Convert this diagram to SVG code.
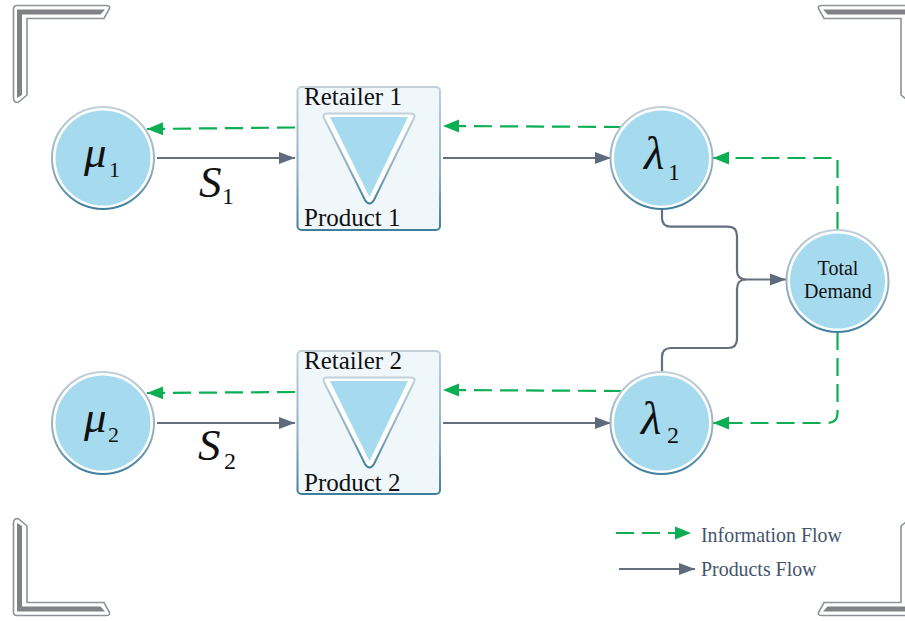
<svg xmlns="http://www.w3.org/2000/svg" width="905" height="621" viewBox="0 0 905 621">
<style>
text{font-family:"Liberation Serif","Times New Roman",serif;fill:#111}
.lbl{font-size:25px}
.td{font-size:20px;text-anchor:middle}
.leg{font-size:19.9px;fill:#44546a}
.it{font-style:italic}
.sub{font-size:24px}
.info{fill:none;stroke:#0fae55;stroke-width:2.2;stroke-dasharray:18 8;marker-end:url(#ga)}
.prod{fill:none;stroke:#65707f;stroke-width:2.2}
.pa{marker-end:url(#pa)}
.ring{fill:#fff;stroke:url(#rim);stroke-width:2}
.core{fill:#a6dbef}
.co{fill:#fff;stroke:#8d9297;stroke-width:1.6}
.ci{fill:#808285}
</style>
<defs>
<linearGradient id="rim" x1="0" y1="0" x2="0" y2="1"><stop offset="0" stop-color="#c2d0da"/><stop offset="0.6" stop-color="#92aebf"/><stop offset="1" stop-color="#3f7f9c"/></linearGradient>
<marker id="ga" markerUnits="userSpaceOnUse" markerWidth="17" markerHeight="14" refX="16" refY="7" orient="auto"><path d="M0,0.5 L16,7 L0,13.5 Z" fill="#0bae52"/></marker>
<marker id="pa" markerUnits="userSpaceOnUse" markerWidth="17" markerHeight="14" refX="16" refY="7" orient="auto"><path d="M0,1 L16,7 L0,13 Z" fill="#5f6b7d"/></marker>
<g id="corner"><path class="co" d="M17,5.500 H106 Q110.500,5.500 109.500,8.500 L104,18.500 H27 V95 L18,102.500 Q13.500,102.500 13.500,98 V9 Q13.500,5.500 17,5.500 Z"/><path class="ci" d="M17,9.500 H105 L100.500,14.500 H22 V95 L17,98 Z"/></g>
</defs>
<rect width="905" height="621" fill="#fff"/>
<g id="frame">
<use href="#corner"/>
<use href="#corner" transform="matrix(-1 0 0 1 928 0)"/>
<use href="#corner" transform="matrix(1 0 0 -1 0 621)"/>
<use href="#corner" transform="matrix(-1 0 0 -1 928 621)"/>
</g>
<g id="connectors">
<path class="info" d="M295,127.500 L147,129"/>
<path class="prod pa" d="M157,158 H295"/>
<path class="prod pa" d="M443,158 H611"/>
<path class="info" d="M622,127 L443,126"/>
<path class="info" d="M295,392 L147,393"/>
<path class="prod pa" d="M157,423 H295"/>
<path class="prod pa" d="M443,423 H611"/>
<path class="info" d="M622,391 L443,390"/>
<path class="info" d="M837.500,230 V158 H713"/>
<path class="info" d="M837.500,332 V413 Q837.500,423 827,423 H713"/>
<path class="prod pa" d="M662,209 V218 Q662,226.700 671,226.700 H728 Q737,226.700 737,236 V270 Q737,279.500 746,279.500 H786"/>
<path class="prod" d="M662,372 V357 Q662,348 671,348 H728 Q737,348 737,339 V289 Q737,279.500 746,279.500"/>
</g>
<g id="mu1"><circle class="ring" cx="103" cy="158" r="51"/><circle class="core" cx="103" cy="158" r="47.500"/><text class="it" x="84" y="167" font-size="45">μ</text><text x="109" y="177" font-size="22">1</text></g>
<g id="mu2"><circle class="ring" cx="103" cy="423" r="51"/><circle class="core" cx="103" cy="423" r="47.500"/><text class="it" x="84" y="432" font-size="45">μ</text><text x="108" y="442" font-size="22">2</text></g>
<g id="lambda1"><circle class="ring" cx="661.500" cy="158" r="51"/><circle class="core" cx="661.500" cy="158" r="47.500"/><text class="it" x="644" y="169" font-size="47">λ</text><text class="sub" x="668" y="180">1</text></g>
<g id="lambda2"><circle class="ring" cx="661.500" cy="423" r="51"/><circle class="core" cx="661.500" cy="423" r="47.500"/><text class="it" x="641" y="434" font-size="47">λ</text><text class="sub" x="667" y="443">2</text></g>
<g id="total-demand"><circle class="ring" cx="837.500" cy="281" r="51"/><circle class="core" cx="837.500" cy="281" r="47.500"/><text class="td" x="838" y="275">Total</text><text class="td" x="838" y="298">Demand</text></g>
<g id="retailer1"><rect x="297.500" y="87" width="142.500" height="143" rx="4" fill="#f0f7fb" stroke="url(#rim)" stroke-width="2"/>
<path d="M327,113.500 H411 Q416,113.500 414,118 L374,200 Q369.500,207 365,200 L324,118 Q322,113.500 327,113.500 Z" fill="#fff" stroke="url(#rim)" stroke-width="2"/>
<path d="M330,117 H408 L369.500,197 Z" class="core"/>
<text class="lbl" x="304" y="104.500">Retailer 1</text><text class="lbl" x="304" y="226">Product 1</text></g>
<g id="retailer2"><rect x="297.500" y="351" width="142.500" height="143" rx="4" fill="#f0f7fb" stroke="url(#rim)" stroke-width="2"/>
<path d="M327,377.500 H411 Q416,377.500 414,382 L374,464 Q369.500,471 365,464 L324,382 Q322,377.500 327,377.500 Z" fill="#fff" stroke="url(#rim)" stroke-width="2"/>
<path d="M330,381 H408 L369.500,461 Z" class="core"/>
<text class="lbl" x="304" y="369">Retailer 2</text><text class="lbl" x="304" y="490.500">Product 2</text></g>
<g id="supply-labels">
<text class="it" x="199" y="197" font-size="45">S</text><text class="sub" x="222" y="204">1</text>
<text class="it" x="198" y="460" font-size="45">S</text><text class="sub" x="224" y="469">2</text>
</g>
<g id="legend">
<path class="info" d="M616,533 H691"/>
<path class="prod pa" d="M619,569 H695"/>
<text class="leg" x="701" y="542">Information Flow</text>
<text class="leg" x="701" y="576">Products Flow</text>
</g>
</svg>
